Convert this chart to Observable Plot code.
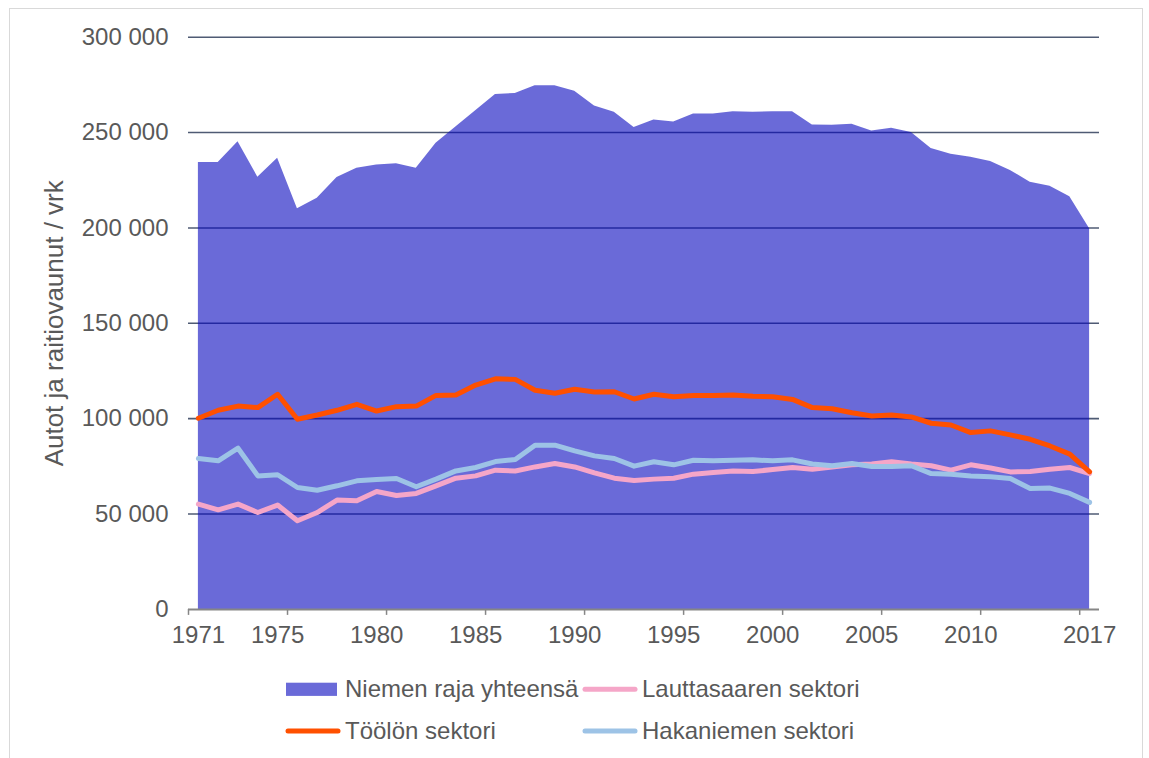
<!DOCTYPE html>
<html><head><meta charset="utf-8">
<script src="https://cdn.jsdelivr.net/npm/d3@7"></script>
<script src="https://cdn.jsdelivr.net/npm/@observablehq/plot@0.6"></script>
<style>
body{margin:0;background:#fff;}
#wrap{position:relative;width:1149px;height:758px;overflow:hidden;font-family:"Liberation Sans",Arial,sans-serif;}
#frame{position:absolute;left:9px;top:8px;width:1134px;height:800px;border:1px solid #d9d9d9;box-sizing:border-box;}
#chart{position:absolute;left:0;top:0;}
#legend{position:absolute;left:0;top:660px;}
#chart svg,#legend svg{display:block;}
</style></head>
<body><div id="wrap"><div id="frame"></div><div id="chart"></div><div id="legend"></div></div>
<script>
// ---- data ----
const years = [1971,1972,1973,1974,1975,1976,1977,1978,1979,1980,1981,1982,1983,1984,1985,1986,1987,1988,1989,1990,
  1991,1992,1993,1994,1995,1996,1997,1998,1999,2000,2001,2002,2003,2004,2005,2006,2007,2008,2009,2010,
  2011,2013,2014,2015,2016,2017];
const total = [234300,234300,245200,226600,236500,210000,215600,226400,231300,233000,233700,231300,244400,252900,261400,270000,270500,274500,274500,271700,
  263900,260600,252600,256600,255500,259700,259700,260900,260600,260900,260900,254000,253800,254300,250800,252200,250100,241700,238600,237000,
  234800,230100,224000,221900,216300,199600];
const lauttasaari = [55200,52200,55200,50800,54700,46500,50800,57300,57000,61800,59700,60800,64800,68800,70000,73000,72600,74700,76500,74700,
  71600,68800,67600,68300,68800,70900,71800,72600,72300,73300,74400,73500,74700,75800,76200,77400,76200,75300,73000,75800,
  74100,72100,72300,73500,74400,71200];
const toolo = [100200,104400,106600,105800,112800,99700,101900,104400,107500,104000,106300,106600,112200,112400,117600,120900,120600,114900,113300,115400,
  114000,114100,110300,112800,111500,112200,112200,112400,111700,111500,110100,105800,105200,103100,101400,101900,100900,97600,96700,92700,
  93600,91500,89200,85700,81400,72100];
const hakaniemi = [79100,77900,84500,70000,70600,63900,62500,64800,67400,68100,68600,64300,68300,72600,74400,77500,78600,86100,86100,83100,
  80500,79100,75100,77400,75800,78200,77900,78200,78400,77900,78400,76200,75300,76500,74900,74900,75300,71200,70900,70000,
  69500,68600,63400,63600,60800,56100];
const seriesNames = ["Niemen raja yhteensä","Lauttasaaren sektori","Töölön sektori","Hakaniemen sektori"];
const seriesColors = ["#0707be","#f5a6c8","#ff5000","#9dc3e6"];
const yTicks = [0,50000,100000,150000,200000,250000,300000];
const xLabelYears = [1971,1975,1980,1985,1990,1995,2000,2005,2010,2017];
const yTitle = "Autot ja raitiovaunut / vrk";

// ---- build ----
const rows = years.map((yr, i) => ({i, yr, total: total[i], lautta: lauttasaari[i], toolo: toolo[i], haka: hakaniemi[i]}));
const n = years.length;
const xLabelIdx = xLabelYears.map(y => years.indexOf(y));
const boundaries = [-0.5].concat(d3.range(4.5, n - 0.5, 5));
const fmt = d => d3.format(",")(d).replace(/,/g, " ");
const font = '"Liberation Sans", Arial, sans-serif';
const lineOpts = {strokeWidth: 5, strokeLinecap: "round", strokeLinejoin: "round"};

const chart = Plot.plot({
  width: 1149, height: 660,
  marginLeft: 188, marginRight: 50, marginTop: 36.7, marginBottom: 51.1,
  style: {fontFamily: font, fontSize: "24px", color: "#595959", background: "transparent", overflow: "visible"},
  x: {domain: [-0.5, n - 0.5]},
  y: {domain: [0, 300000]},
  marks: [
    Plot.ruleY(yTicks.filter(d => d > 0), {x1: -0.5, x2: n - 0.5, stroke: "#4f5b74", strokeWidth: 1.6}),
    Plot.areaY(rows, {x: "i", y: "total", fill: seriesColors[0], fillOpacity: 0.6}),
    Plot.line(rows, {x: "i", y: "lautta", stroke: seriesColors[1], ...lineOpts}),
    Plot.line(rows, {x: "i", y: "toolo", stroke: seriesColors[2], ...lineOpts}),
    Plot.line(rows, {x: "i", y: "haka", stroke: seriesColors[3], ...lineOpts}),
    Plot.ruleY([0], {x1: -0.5, x2: n - 0.5, stroke: "#868686", strokeWidth: 2}),
    Plot.axisX({ticks: boundaries, tickSize: 6, tickFormat: () => "", stroke: "#868686", strokeWidth: 1.5, label: null}),
    Plot.axisX({ticks: xLabelIdx, tickSize: 0, tickPadding: 17, tickFormat: i => String(years[i]), label: null, fill: "#595959"}),
    Plot.axisY({ticks: yTicks, tickSize: 0, tickPadding: 20, tickFormat: fmt, label: null, fill: "#595959"}),
    Plot.text([yTitle], {text: d => d, frameAnchor: "left", textAnchor: "middle", lineAnchor: "middle", dx: -134, rotate: -90, fontSize: 26, fill: "#595959"})
  ]
});
document.getElementById("chart").appendChild(chart);

// ---- legend ----
const legendItems = [
  {k: 0, col: 0, row: 0, type: "rect"},
  {k: 1, col: 1, row: 0, type: "line"},
  {k: 2, col: 0, row: 1, type: "line"},
  {k: 3, col: 1, row: 1, type: "line"}
];
const colX = [286, 583], rowY = [29.3, 71];
const lsvg = d3.select("#legend").append("svg").attr("width", 1149).attr("height", 98)
  .style("font-family", font).style("font-size", "24px");
for (const it of legendItems) {
  const x0 = colX[it.col], yc = rowY[it.row];
  if (it.type === "rect") {
    lsvg.append("rect").attr("x", x0).attr("y", yc - 6.6).attr("width", 51).attr("height", 13.2)
      .attr("fill", seriesColors[it.k]).attr("fill-opacity", 0.6);
  } else {
    lsvg.append("line").attr("x1", x0 + 2).attr("x2", x0 + 52).attr("y1", yc).attr("y2", yc)
      .attr("stroke", seriesColors[it.k]).attr("stroke-width", 5).attr("stroke-linecap", "round");
  }
  lsvg.append("text").attr("x", x0 + 59).attr("y", yc + 7.8).attr("fill", "#595959").text(seriesNames[it.k]);
}
</script></body></html>
